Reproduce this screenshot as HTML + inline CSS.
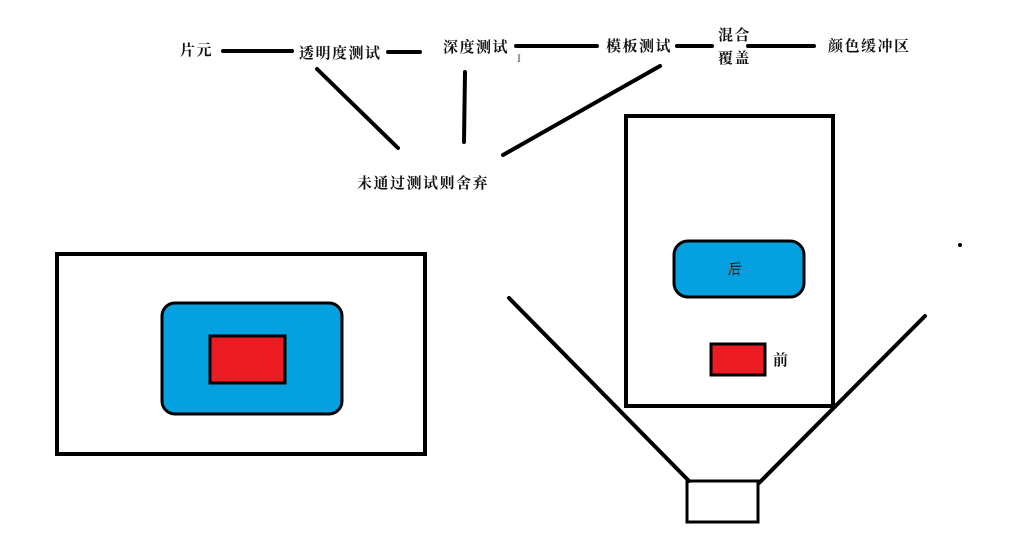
<!DOCTYPE html>
<html><head><meta charset="utf-8"><style>
html,body{margin:0;padding:0;background:#fff;}
body{width:1024px;height:555px;overflow:hidden;position:relative;}
svg{position:absolute;left:0;top:0;}
text{font-family:"Liberation Serif","Noto Serif CJK SC",serif;font-weight:bold;font-size:15px;letter-spacing:1.5px;fill:#111;}
</style></head><body>
<svg width="1024" height="555" viewBox="0 0 1024 555">
<g stroke="#000" stroke-width="4" stroke-linecap="round">
<line x1="223" y1="51" x2="292" y2="51"/>
<line x1="388" y1="52" x2="420" y2="52"/>
<line x1="516" y1="46" x2="597" y2="46"/>
<line x1="677" y1="46" x2="712" y2="46"/>
<line x1="748" y1="46" x2="814" y2="46"/>
<line x1="317" y1="69" x2="398" y2="148"/>
<line x1="465" y1="72" x2="464" y2="142"/>
<line x1="660" y1="66" x2="503" y2="155"/>
</g>
<text x="180" y="55">片元</text>
<text x="299" y="58">透明度测试</text>
<text x="443" y="52">深度测试</text>
<text x="606" y="51">模板测试</text>
<text x="718" y="40">混合</text>
<text x="718" y="63">覆盖</text>
<text x="828" y="51">颜色缓冲区</text>
<text x="357" y="188">未通过测试则舍弃</text>
<text x="517" y="62" style="font-weight:normal;font-size:12px;fill:#555">I</text>
<rect x="57" y="254" width="368" height="200" fill="none" stroke="#000" stroke-width="4"/>
<rect x="162" y="303" width="180" height="111" rx="13" fill="#04a0df" stroke="#000" stroke-width="3"/>
<rect x="210" y="336" width="75" height="47" fill="#ec1c24" stroke="#000" stroke-width="3"/>
<rect x="626" y="116" width="207" height="290" fill="none" stroke="#000" stroke-width="4"/>
<rect x="674" y="241" width="130" height="56" rx="14" fill="#04a0df" stroke="#000" stroke-width="3"/>
<text x="728" y="274" style="font-weight:normal;font-size:14px;fill:#fff;stroke:#000;stroke-width:0.5">后</text>
<rect x="711" y="344" width="54" height="31" fill="#ec1c24" stroke="#000" stroke-width="3"/>
<text x="773" y="365">前</text>
<g stroke="#000" stroke-width="4" stroke-linecap="round">
<line x1="509" y1="298" x2="689" y2="481"/>
<line x1="925" y1="316" x2="759" y2="483"/>
</g>
<rect x="687" y="481" width="71" height="41" fill="none" stroke="#000" stroke-width="3"/>
<circle cx="960" cy="245" r="2" fill="#000"/>
</svg>
</body></html>
